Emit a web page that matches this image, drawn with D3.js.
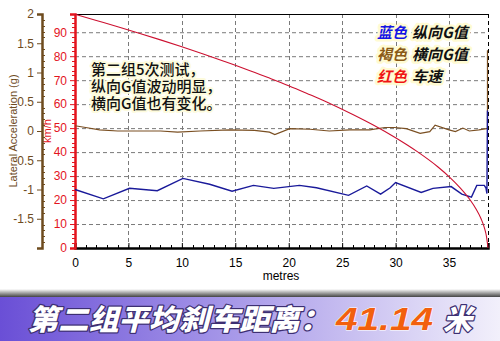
<!DOCTYPE html>
<html>
<head>
<meta charset="utf-8">
<script src="https://cdn.jsdelivr.net/npm/d3@7"></script>
<style>
  body { margin: 0; background: #fff; }
  svg { display: block; }
  text { font-family: "Liberation Sans", Arial, sans-serif; }
  .cjk { font-family: "Noto Sans CJK SC", sans-serif; }
</style>
</head>
<body>
<div id="chart"></div>
<script>
// speed (km/h) vs distance (metres)
var speedX = [0, 2, 4, 6, 8, 10, 12, 14, 16, 18, 20, 22, 24, 26, 28, 30, 32, 34, 35, 36, 37, 37.5, 38, 38.3, 38.5, 38.65];
var speedV = [97.5, 94.9, 92.3, 89.6, 86.8, 83.9, 80.9, 77.8, 74.6, 71.2, 67.7, 63.9, 60.0, 55.7, 51.1, 46.0, 40.3, 33.7, 29.8, 25.3, 19.9, 16.5, 12.2, 8.6, 5.0, 0];

// lateral G (brown)
var latX = [0, 1, 2.3, 4, 6, 8, 9.6, 11.7, 14.5, 16.8, 18.2, 18.7, 20.1, 22, 23.8, 25.7, 27.6, 29, 29.9, 31, 32.3, 33.2, 33.7, 35, 35.6, 36.3, 36.9, 37.8, 38.5, 38.6, 38.6];
var latG = [0.09, 0.06, 0.02, 0.0, 0.0, 0.0, -0.02, 0.0, 0.02, 0.01, -0.02, -0.06, 0.04, 0.03, 0.0, 0.02, 0.02, 0.06, 0.06, 0.04, -0.04, -0.01, 0.10, 0.02, -0.01, 0.05, 0.0, 0.02, 0.04, 0.04, 1.38];

// longitudinal G (blue)
var lonX = [0, 2.65, 5.1, 7.7, 10.1, 12.6, 14.7, 16.7, 18.6, 21.0, 22.6, 25.6, 27.3, 28.6, 29.5, 30.0, 32.4, 33.5, 35.2, 36.2, 37.1, 37.6, 38.3, 38.45, 38.55, 38.6];
var lonG = [-1.0, -1.16, -0.98, -1.02, -0.81, -0.91, -1.03, -0.93, -0.98, -0.93, -0.97, -1.10, -0.94, -1.08, -0.97, -0.88, -1.05, -0.98, -0.95, -1.08, -1.13, -0.93, -0.93, -0.97, -1.07, 0.35];

var xTicks = [0, 5, 10, 15, 20, 25, 30, 35];
var speedTicks = [0, 10, 20, 30, 40, 50, 60, 70, 80, 90];
var gTicks = [-1.5, -1, -0.5, 0, 0.5, 1, 1.5, 2];

var W = 500, H = 341;
var svg = d3.select("#chart").append("svg").attr("width", W).attr("height", H);

var x = d3.scaleLinear().domain([0, 38.65]).range([75, 488]);
var yS = d3.scaleLinear().domain([0, 97.6]).range([248, 14]);
var yG = d3.scaleLinear().domain([-2, 2]).range([248, 14]);

var brown = "#6e4b1e", red = "#e3141e";

// grid
svg.append("g").selectAll("line").data(speedTicks.slice(1)).enter().append("line")
   .attr("x1", 75).attr("x2", 488)
   .attr("y1", function(d){ return yS(d) + 0.5; })
   .attr("y2", function(d){ return yS(d) + 0.5; })
   .attr("stroke", "#7a7a7a").attr("stroke-dasharray", "4,3");
svg.append("g").selectAll("line").data(xTicks.slice(1)).enter().append("line")
   .attr("x1", function(d){ return Math.round(x(d)) + 0.5; })
   .attr("x2", function(d){ return Math.round(x(d)) + 0.5; })
   .attr("y1", 14).attr("y2", 248)
   .attr("stroke", "#7a7a7a").attr("stroke-dasharray", "4,3");

// frame
svg.append("line").attr("x1", 75).attr("x2", 488).attr("y1", 14.5).attr("y2", 14.5).attr("stroke", "#000");
svg.append("line").attr("x1", 488.5).attr("x2", 488.5).attr("y1", 14).attr("y2", 248)
   .attr("stroke", "#000").attr("stroke-dasharray", "4,3");

// x axis, ticks pointing up
var xMinor = d3.range(1, 39).filter(function(d){ return d % 5 !== 0; });
svg.append("g").selectAll("line").data(xMinor).enter().append("line")
   .attr("x1", function(d){ return Math.round(x(d)) + 0.5; })
   .attr("x2", function(d){ return Math.round(x(d)) + 0.5; })
   .attr("y1", 248).attr("y2", 245).attr("stroke", "#000");
var xAxis = svg.append("g").attr("transform", "translate(0,248)")
   .call(d3.axisBottom(x).tickValues(xTicks).tickSize(-5).tickPadding(10).tickFormat(d3.format("d")));
xAxis.select(".domain").attr("stroke-width", 2.5);
xAxis.selectAll("text").attr("font-size", 12).attr("fill", "#000");
svg.append("text").attr("x", 281).attr("y", 280).attr("text-anchor", "middle")
   .attr("font-size", 12).text("metres");

// speed axis (red)
var sMinor = d3.range(2, 97, 2).filter(function(d){ return d % 10 !== 0; });
svg.append("g").selectAll("line").data(sMinor).enter().append("line")
   .attr("x1", 75).attr("x2", 72)
   .attr("y1", function(d){ return Math.round(yS(d)) + 0.5; })
   .attr("y2", function(d){ return Math.round(yS(d)) + 0.5; })
   .attr("stroke", red);
var sAxis = svg.append("g").attr("transform", "translate(75,0)")
   .call(d3.axisLeft(yS).tickValues(speedTicks).tickSize(5).tickPadding(3).tickFormat(d3.format("d")));
sAxis.select(".domain").attr("stroke", red).attr("stroke-width", 2.5);
sAxis.selectAll(".tick line").attr("stroke", red);
sAxis.selectAll("text").attr("fill", red).attr("font-size", 12);
svg.append("text").attr("transform", "translate(51,131) rotate(-90)")
   .attr("text-anchor", "middle").attr("font-size", 11).attr("fill", red).text("km/h");

// lateral G axis (brown)
var gMinor = d3.range(-19, 20).map(function(d){ return d / 10; }).filter(function(d){ return Math.abs(d * 2 - Math.round(d * 2)) > 0.01; });
svg.append("g").selectAll("line").data(gMinor).enter().append("line")
   .attr("x1", 42).attr("x2", 45)
   .attr("y1", function(d){ return Math.round(yG(d)) + 0.5; })
   .attr("y2", function(d){ return Math.round(yG(d)) + 0.5; })
   .attr("stroke", brown);
var gAxis = svg.append("g").attr("transform", "translate(42,0)")
   .call(d3.axisLeft(yG).tickValues(gTicks).tickSize(5).tickPadding(3).tickFormat(function(d){ return String(d); }));
gAxis.select(".domain").attr("stroke", brown).attr("stroke-width", 2.5);
gAxis.selectAll(".tick line").attr("stroke", brown);
gAxis.selectAll("text").attr("fill", brown).attr("font-size", 12);
svg.append("text").attr("transform", "translate(17,131) rotate(-90)")
   .attr("text-anchor", "middle").attr("font-size", 11).attr("fill", brown).text("Lateral Acceleration (g)");

// series
var lineS = d3.line().x(function(d){ return x(d[0]); }).y(function(d){ return yS(d[1]); }).curve(d3.curveMonotoneX);
var lineG = d3.line().x(function(d){ return x(d[0]); }).y(function(d){ return yG(d[1]); });

svg.append("path").datum(d3.zip(latX, latG)).attr("d", lineG)
   .attr("fill", "none").attr("stroke", "#7a4f22").attr("stroke-width", 1.2);
svg.append("path").datum(d3.zip(lonX, lonG)).attr("d", lineG)
   .attr("fill", "none").attr("stroke", "#1a1a9a").attr("stroke-width", 1.4);
svg.append("path").datum(d3.zip(speedX, speedV)).attr("d", lineS)
   .attr("fill", "none").attr("stroke", "#cc1030").attr("stroke-width", 1.1);

// annotation (one text block, three lines)
var note = ["第二组5次测试，", "纵向G值波动明显，", "横向G值也有变化。"];
svg.append("text").attr("class", "cjk")
   .attr("font-size", 15).attr("font-weight", 500).attr("fill", "#111")
   .attr("stroke", "#fdfbdc").attr("stroke-width", 4).attr("stroke-linejoin", "round")
   .attr("paint-order", "stroke")
   .selectAll("tspan").data(note).enter().append("tspan")
   .attr("x", 91).attr("y", function(d, i){ return 75 + i * 17; })
   .text(function(d){ return d; });

// legend (one text block, three lines)
var legKey = ["蓝色", "褐色", "红色"];
var legName = ["纵向G值", "横向G值", "车速"];
var legColor = ["#1414e6", "#8a5a16", "#f01414"];
var legText = svg.append("text").attr("class", "cjk")
   .attr("font-size", 15).attr("font-weight", "bold").attr("font-style", "italic")
   .attr("stroke", "#fffbd2").attr("stroke-width", 5).attr("stroke-linejoin", "round")
   .attr("paint-order", "stroke");
legKey.forEach(function(k, i){
   legText.append("tspan").attr("x", 377).attr("y", 38 + i * 22).attr("fill", legColor[i]).text(k);
   legText.append("tspan").attr("dx", 5).attr("fill", "#111").text(legName[i]);
});

// banner
var defs = svg.append("defs");
var g1 = defs.append("linearGradient").attr("id", "band").attr("x1", 0).attr("x2", 1);
g1.append("stop").attr("offset", 0).attr("stop-color", "#6a4fd6");
g1.append("stop").attr("offset", 0.45).attr("stop-color", "#a596e8");
g1.append("stop").attr("offset", 1).attr("stop-color", "#f2f0fb");
var g2 = defs.append("linearGradient").attr("id", "shade").attr("x1", 0).attr("x2", 0).attr("y1", 0).attr("y2", 1);
g2.append("stop").attr("offset", 0).attr("stop-color", "#fff");
g2.append("stop").attr("offset", 1).attr("stop-color", "#444");
svg.append("rect").attr("x", 0).attr("y", 289).attr("width", W).attr("height", 8).attr("fill", "url(#shade)");
svg.append("rect").attr("x", 0).attr("y", 297).attr("width", W).attr("height", 44).attr("fill", "url(#band)");

var banner = svg.append("text").attr("class", "cjk").attr("y", 330)
   .attr("font-size", 29).attr("font-weight", 900).attr("font-style", "italic")
   .attr("stroke", "#3d2f72").attr("stroke-width", 2.5).attr("stroke-linejoin", "round")
   .attr("paint-order", "stroke");
banner.append("tspan").attr("x", 28).attr("fill", "#fff")
   .attr("textLength", 302).attr("lengthAdjust", "spacingAndGlyphs").text("第二组平均刹车距离：");
banner.append("tspan").attr("x", 336).attr("fill", "#f2600e")
   .attr("font-family", "'Liberation Sans', Arial, sans-serif").attr("font-size", 31)
   .attr("stroke", "#fff").attr("stroke-width", 1)
   .attr("textLength", 97).attr("lengthAdjust", "spacingAndGlyphs").text("41.14");
banner.append("tspan").attr("x", 443).attr("fill", "#fff").text("米");
</script>
</body>
</html>
